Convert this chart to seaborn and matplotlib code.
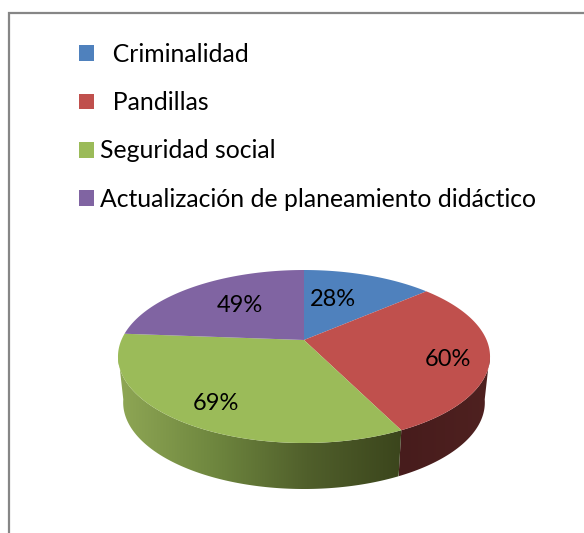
import numpy as np
import matplotlib
matplotlib.use("Agg")
import matplotlib.pyplot as plt
from matplotlib.colors import LinearSegmentedColormap
from matplotlib.patches import Patch, Polygon
from matplotlib.path import Path
from matplotlib.transforms import Transform
import seaborn as sns

categories = ["Criminalidad", "Pandillas", "Seguridad social", "Actualización de planeamiento didáctico"]
legend_pad = ["  ", "  ", "", ""]
values = [28, 60, 69, 49]
value_labels = ["28%", "60%", "69%", "49%"]
colors = ["#4f81bd", "#c0504d", "#9bbb59", "#8064a2"]

sns.set_theme(style="white")
plt.rcParams["font.family"] = ["Lato", "DejaVu Sans"]
W, H = 584, 533


class Tilt(Transform):
    """Perspective view of the unit-circle pie, in pixel coordinates."""
    input_dims = output_dims = 2

    def __init__(self, cx, cy, a, b, k):
        super().__init__()
        self.p = (cx, cy, a, b, k)

    def transform_non_affine(self, v):
        v = np.asarray(v, float)
        cx, cy, a, b, k = self.p
        den = 1 + k * v[:, 1]
        return np.column_stack([cx + a * v[:, 0] / den, cy - b * v[:, 1] / den])


fig = plt.figure(figsize=(W / 100, H / 100), dpi=100, facecolor="white")
ax = fig.add_axes([0, 0, 1, 1])
palette = sns.color_palette(colors)
wedges, _ = ax.pie(values, colors=palette, startangle=90, counterclock=False, radius=1)
ax.set_aspect("auto")
ax.set_xlim(0, W)
ax.set_ylim(H, 0)
ax.set_axis_off()

top = Tilt(304, 340, 182.6, 83.35, 0.1908)
low = Tilt(304, 386, 177.5, 83.35, 0.1908)


def rim(t1, t2, n=200):
    phi = np.radians(np.linspace(t1, t2, n))
    return np.column_stack([np.cos(phi), np.sin(phi)])


for w in wedges:
    w.set_linewidth(0)
    w.set_edgecolor("none")
    pts = np.vstack([[0, 0], rim(w.theta1, w.theta2), [0, 0]])
    w._path = Path(pts, closed=True)
    w.set_transform(top + ax.transData)
    w.set_zorder(3)

side_maps = {
    1: LinearSegmentedColormap.from_list("r", ["#471c1c", "#4f2120"]),
    2: LinearSegmentedColormap.from_list("g", ["#8fa755", "#6f873f", "#505f2b", "#3b451c"]),
}
for i, cmap in side_maps.items():
    t1 = max(wedges[i].theta1, -171)
    t2 = min(wedges[i].theta2, -9)
    r = rim(t1, t2)
    poly = np.vstack([top.transform_non_affine(r), low.transform_non_affine(r)[::-1]])
    x0, x1 = poly[:, 0].min(), poly[:, 0].max()
    y0, y1 = poly[:, 1].min(), poly[:, 1].max()
    grad = np.linspace(0, 1, 256)[None, :]
    im = ax.imshow(grad, cmap=cmap, extent=(x0, x1, y1, y0), aspect="auto", zorder=2, interpolation="bilinear")
    im.set_clip_path(Polygon(poly, closed=True, transform=ax.transData))
ax.set_xlim(0, W)
ax.set_ylim(H, 0)

label_pos = [(333, 300), (448, 359), (216, 404), (240, 306)]
for s, (x, y) in zip(value_labels, label_pos):
    ax.text(x, y, s, ha="center", va="center", fontsize=17, color="black", zorder=5)

ax.plot([9, 9, W], [H, 13, 13], color="#868686", lw=1.6, solid_joinstyle="miter", zorder=1)

handles = [Patch(facecolor=c, edgecolor="none") for c in palette]
leg = ax.legend(handles, [p + c for p, c in zip(legend_pad, categories)],
                loc="upper left", bbox_to_anchor=(79 / W, 1 - 43 / H), frameon=False,
                fontsize=17.8, handlelength=0.6, handleheight=0.6, handletextpad=0.24,
                borderpad=0, borderaxespad=0, labelspacing=1.02, labelcolor="black")

fig.savefig("out.png", dpi=100)
